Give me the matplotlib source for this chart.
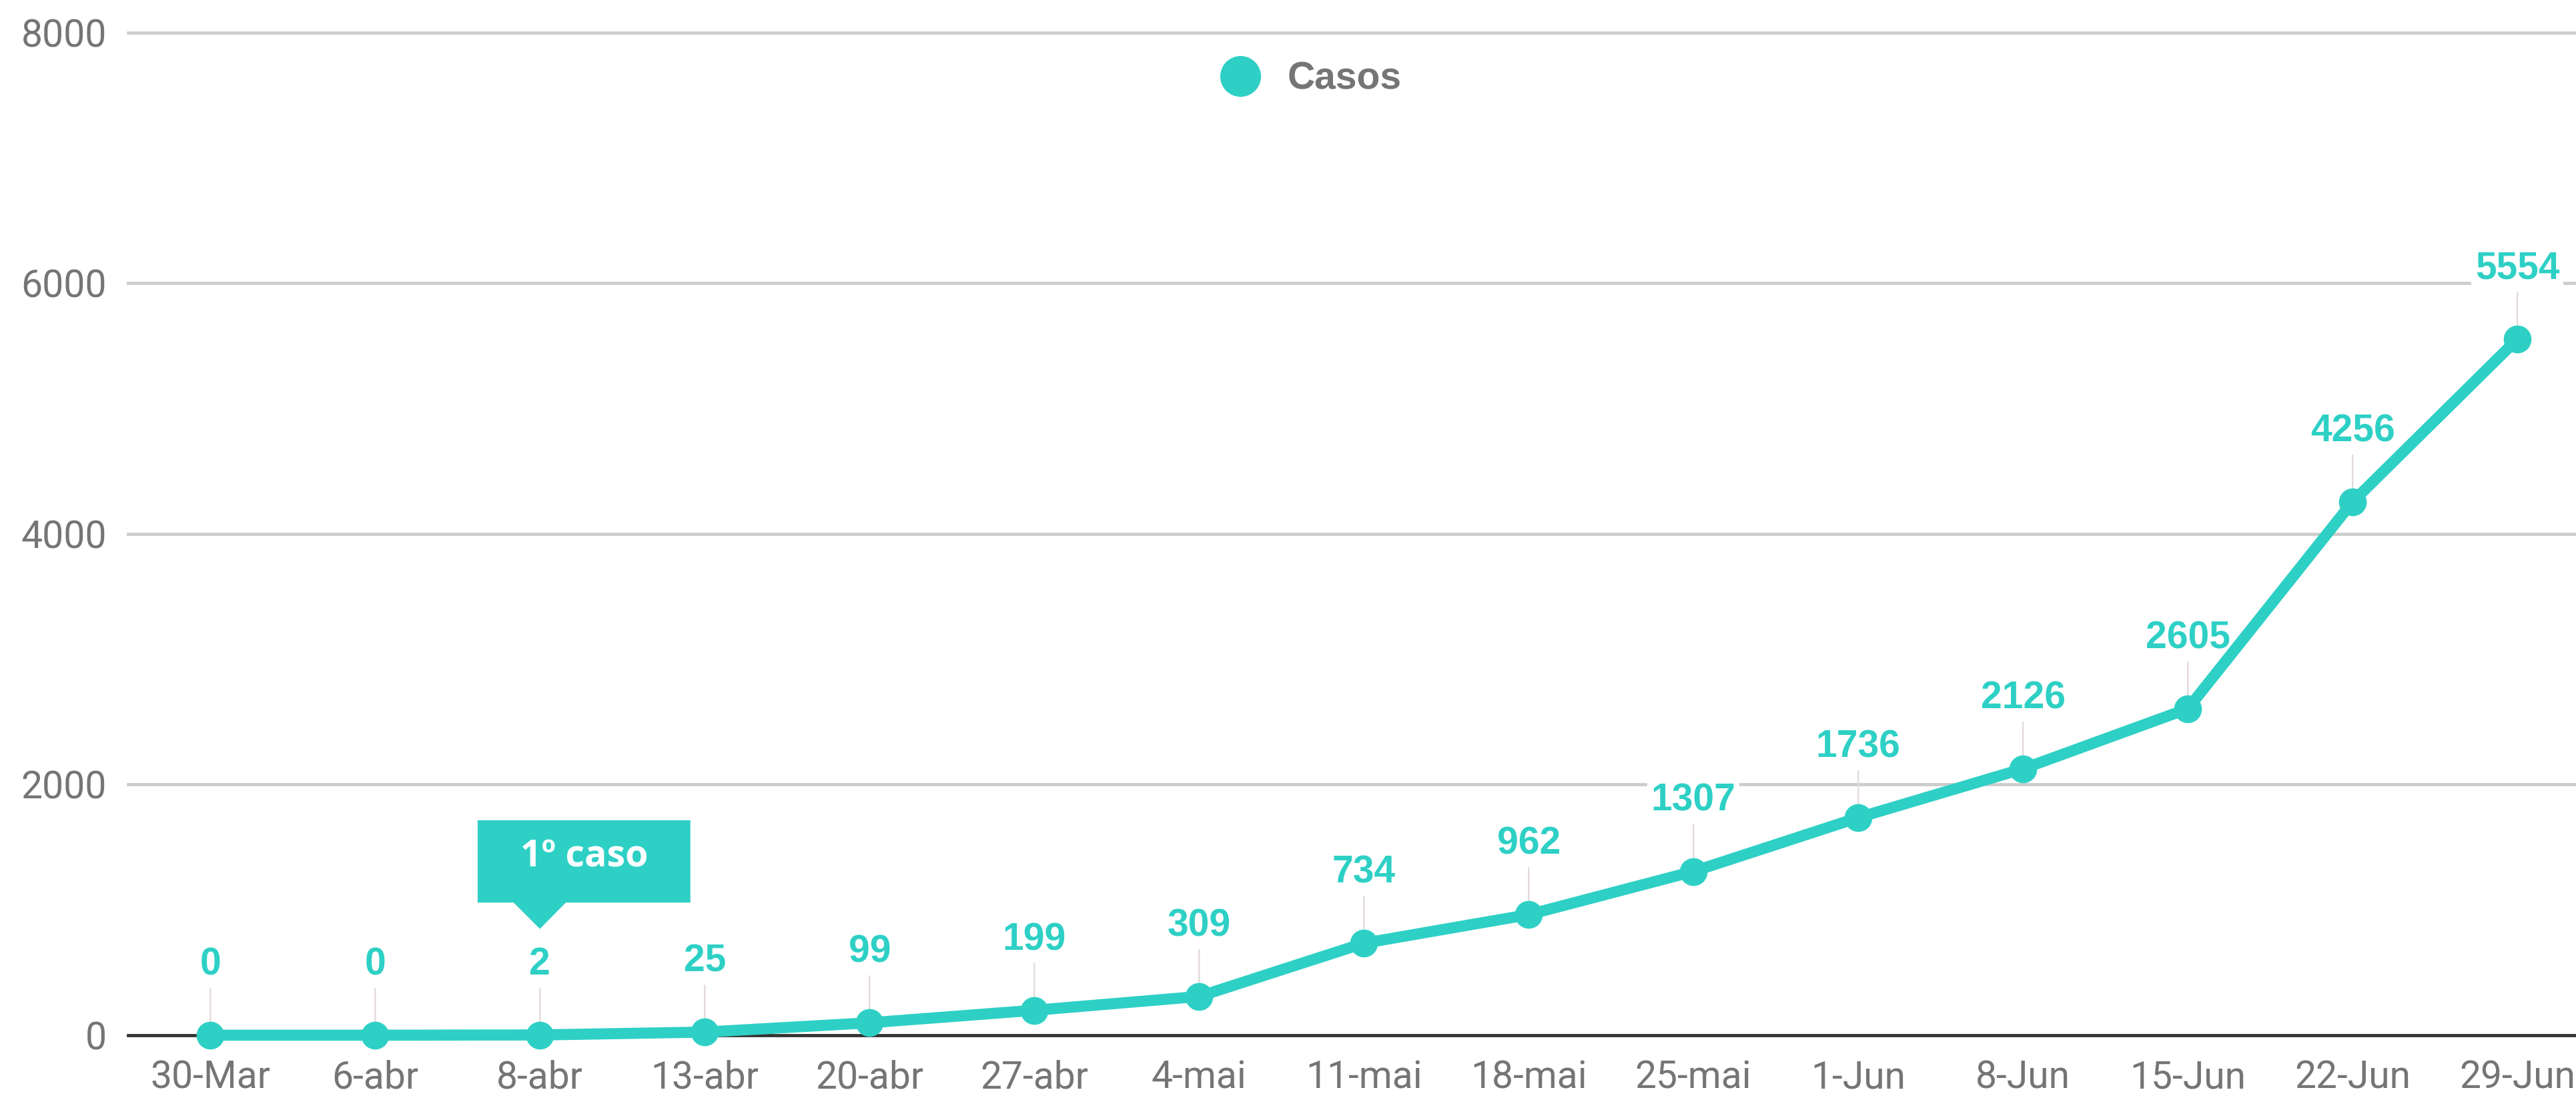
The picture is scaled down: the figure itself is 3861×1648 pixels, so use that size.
import numpy as np
import matplotlib
matplotlib.use('Agg')
import matplotlib.pyplot as plt
from matplotlib.lines import Line2D
from matplotlib.path import Path

# dados
semanas = ['30-Mar', '6-abr', '8-abr', '13-abr', '20-abr', '27-abr', '4-mai', '11-mai',
           '18-mai', '25-mai', '1-Jun', '8-Jun', '15-Jun', '22-Jun', '29-Jun']
casos = [0, 0, 2, 25, 99, 199, 309, 734, 962, 1307, 1736, 2126, 2605, 4256, 5554]
yticks = [0, 2000, 4000, 6000, 8000]
serie_nome = 'Casos'
nota_texto = '1º caso'
nota_idx = 2

verde = '#2ed0c5'
cinza = '#757575'


def balao(x0, y0, width, height, mutation_size):
    '''caixa com ponteiro para baixo (estilo callout)'''
    m = mutation_size
    cx = x0 + width / 2
    cy = y0 + height / 2 - 0.12 * m
    hw, hh = 2.87 * m, 1.11 * m
    b = cy - hh
    verts = [(cx - hw, b), (cx - 1.90 * m, b), (cx - 1.19 * m, b - 0.71 * m),
             (cx - 0.49 * m, b), (cx + hw, b), (cx + hw, cy + hh),
             (cx - hw, cy + hh), (cx - hw, b)]
    codes = [Path.MOVETO] + [Path.LINETO] * 6 + [Path.CLOSEPOLY]
    return Path(verts, codes)


fig = plt.figure(figsize=(38.61, 16.48), dpi=100)
ax = fig.add_axes([0.0497, 0.0589, 0.9503, 0.9114])

x = np.arange(len(semanas))
ax.plot(x, casos, color=verde, lw=12, marker='o', ms=29, clip_on=False, zorder=3)

for i, v in enumerate(casos):
    ax.annotate(str(v), xy=(i, v), xytext=(0, 76), textcoords='offset points',
                ha='center', va='center', fontsize=41, fontweight='bold',
                family='Liberation Sans', color=verde, zorder=1,
                bbox=dict(boxstyle='square,pad=0.1', fc='white', ec='none'),
                arrowprops=dict(arrowstyle='-', color='#e2d8d8', lw=1.6,
                                shrinkA=2, shrinkB=0))

ax.annotate(nota_texto, xy=(nota_idx, casos[nota_idx]), xytext=(47.5, 192),
            textcoords='offset points', ha='center', va='center',
            fontsize=40, fontweight='bold', family='Open Sans', color='white',
            bbox=dict(boxstyle=balao, fc=verde, ec='none'), zorder=4)

ax.set_xlim(-0.5, 14.356)
ax.set_ylim(0, 8000)
ax.set_xticks(x)
ax.set_xticklabels(semanas)
ax.set_yticks(yticks)
ax.set_yticklabels([str(t) for t in yticks])
ax.tick_params(axis='both', length=0, labelsize=41, labelcolor=cinza)
ax.tick_params(axis='x', pad=26)
ax.tick_params(axis='y', pad=23)
for lab in ax.get_xticklabels() + ax.get_yticklabels():
    lab.set_family('Roboto')

ax.set_axisbelow(True)
ax.grid(axis='y', color='#cccccc', lw=3.4)
for gl in ax.get_ygridlines():
    gl.set_clip_on(False)
for s in ['top', 'right', 'left']:
    ax.spines[s].set_visible(False)
ax.spines['bottom'].set_color('#333333')
ax.spines['bottom'].set_linewidth(3.4)

handle = Line2D([], [], color=verde, marker='o', ls='', ms=43)
ax.legend([handle], [serie_nome], loc='center', bbox_to_anchor=(0.4795, 0.9537),
          frameon=False, handletextpad=0.25,
          prop=dict(family='Liberation Sans', weight='bold', size=41),
          labelcolor=cinza)

fig.savefig('out.png', dpi=100, facecolor='white')
